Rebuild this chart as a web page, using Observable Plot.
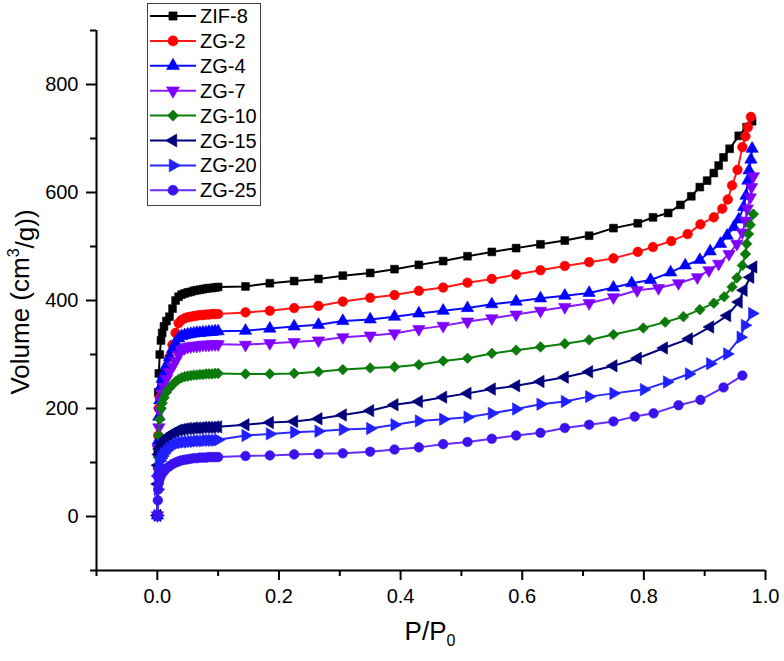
<!DOCTYPE html>
<html><head><meta charset="utf-8">
<script src="https://cdn.jsdelivr.net/npm/d3@7"></script>
<script src="https://cdn.jsdelivr.net/npm/@observablehq/plot@0.6"></script>
<style>
body{margin:0;background:#fff;}
#wrap{position:relative;width:784px;height:661px;}
#wrap svg{position:absolute;left:0;top:0;}
</style></head><body><div id="wrap"></div>
<script>
// ---- data ----
const seriesNames = ["ZIF-8","ZG-2","ZG-4","ZG-7","ZG-10","ZG-15","ZG-20","ZG-25"];
const lineColors  = ["#000000","#ff1a1a","#0a0aff","#8a1aff","#0a800a","#000080","#2a2aff","#6a2aff"];
const dotColors   = ["#000000","#ff0000","#0000ff","#8000ff","#0b7a0b","#00007a","#2020ff","#3a12ee"];
const symbols     = ["square","circle","triangle","triangle","diamond2","triangle","triangle","circle"];
const rotations   = [0,0,0,180,0,-90,90,0];

// shared relative-pressure grid, low and middle range
const pLow = [0.0002,0.0008,0.0015,0.0025,0.004,0.006,0.008,0.011,0.015,0.02,0.025,0.03,0.035,0.04,0.045,0.05,0.055,0.06,0.065,0.07,0.075,0.08,0.085,0.09,0.095,0.1];
const pMid = [0.145,0.185,0.225,0.265,0.305,0.35,0.39,0.43,0.47,0.51,0.55,0.59,0.63,0.67,0.71,0.75];

// volumes at pLow
const lowZIF8 = [2,120,230,265,300,326,340,352,362,370,385,400,407,411,413,415,416,418,419,420,421,422,423,423,424,425];
const lowZG2  = [2,90,150,200,220,235,245,255,272,295,318,340,358,364,367,369,370,371,372,373,373,374,374,375,375,375];
const lowZG4  = [2,80,140,185,215,240,255,265,280,295,310,322,330,334,336,337,338,339,340,340,341,341,342,342,343,343];
const lowZG7  = [2,70,125,165,195,215,228,240,255,268,278,288,300,308,312,314,315,316,316,317,318,318,318,319,319,319];
const lowZG10 = [2,60,110,150,180,200,210,220,230,238,244,250,254,257,259,260,261,262,262,263,263,264,264,264,265,265];
const lowZG15 = [2,60,95,115,125,130,135,140,145,150,154,157,160,161,162,163,163,164,164,164,165,165,165,165,166,166];
const lowZG20 = [2,50,80,95,103,108,112,117,122,127,131,134,136,137,138,138,139,139,140,140,140,141,141,141,141,142];
const lowZG25 = [1,30,50,62,70,76,80,84,89,93,97,100,102,104,105,106,107,108,108,109,109,109,110,110,110,110];

// volumes at pMid
const midZIF8 = [426,432,436,440,446,451,458,466,473,482,490,497,504,511,520,534];
const midZG2  = [378,381,386,390,398,405,410,418,424,433,440,448,456,464,471,478];
const midZG4  = [344,348,352,355,362,365,370,376,381,386,393,398,404,409,414,424];
const midZG7  = [318,321,323,326,332,335,339,347,353,361,367,374,381,388,395,406];
const midZG10 = [264,264,265,268,272,275,277,281,288,293,302,308,314,320,327,337];
const midZG15 = [170,174,176,181,188,196,207,213,221,228,236,242,250,258,268,279];
const midZG20 = [150,153,156,158,161,163,170,177,180,184,191,199,208,213,222,228];
const midZG25 = [112,113,115,116,117,120,124,128,134,138,144,150,155,164,170,176];

// high-pressure tails (own P/P0 points)
const tailPZIF8 = [0.79,0.815,0.84,0.86,0.878,0.892,0.904,0.915,0.923,0.931,0.941,0.956,0.969,0.978];
const tailVZIF8 = [543,554,562,577,593,610,622,636,650,665,681,705,721,732];
const tailPZG2  = [0.79,0.815,0.845,0.872,0.893,0.915,0.929,0.938,0.945,0.954,0.962,0.967,0.971,0.976];
const tailVZG2  = [490,499,510,523,541,554,570,587,613,642,684,704,721,740];
const tailPZG4  = [0.78,0.811,0.844,0.868,0.892,0.909,0.926,0.937,0.948,0.956,0.964,0.968,0.971,0.973,0.976,0.978];
const tailVZG4  = [432,438,452,465,475,491,505,520,536,550,573,594,622,641,661,681];
const tailPZG7  = [0.789,0.824,0.857,0.888,0.907,0.923,0.94,0.953,0.962,0.967,0.97,0.975,0.977,0.98];
const tailVZG7  = [419,423,432,443,456,468,486,505,526,548,570,591,610,630];
const tailPZG10 = [0.799,0.835,0.865,0.892,0.915,0.932,0.945,0.953,0.962,0.967,0.969,0.972,0.975,0.98];
const tailVZG10 = [349,360,370,383,395,407,425,442,465,486,505,523,540,560];
const tailPZG15 = [0.79,0.833,0.874,0.909,0.937,0.956,0.964,0.975,0.98];
const tailVZG15 = [293,312,329,351,372,397,419,443,462];
const tailPZG20 = [0.8,0.838,0.874,0.909,0.937,0.959,0.966,0.978];
const tailVZG20 = [235,249,264,283,301,332,354,376];
const tailPZG25 = [0.785,0.816,0.857,0.893,0.931,0.962];
const tailVZG25 = [185,191,206,216,239,261];

const xTicksMajor = [0,0.2,0.4,0.6,0.8,1.0];
const xTicksMinor = [-0.1,0.1,0.3,0.5,0.7,0.9];
const yTicksMajor = [0,200,400,600,800];
const yTicksMinor = [-100,100,300,500,700,900];
const xDomain = [-0.1,1.0];
const yDomain = [-100,900];

// ---- build table ----
const lows  = [lowZIF8,lowZG2,lowZG4,lowZG7,lowZG10,lowZG15,lowZG20,lowZG25];
const mids  = [midZIF8,midZG2,midZG4,midZG7,midZG10,midZG15,midZG20,midZG25];
const tailsP= [tailPZIF8,tailPZG2,tailPZG4,tailPZG7,tailPZG10,tailPZG15,tailPZG20,tailPZG25];
const tailsV= [tailVZIF8,tailVZG2,tailVZG4,tailVZG7,tailVZG10,tailVZG15,tailVZG20,tailVZG25];
const seriesData = seriesNames.map((name,i) => {
  const rows = [];
  pLow.forEach((p,j)=>rows.push({name,p,v:lows[i][j]}));
  pMid.forEach((p,j)=>rows.push({name,p,v:mids[i][j]}));
  tailsP[i].forEach((p,j)=>rows.push({name,p,v:tailsV[i][j]}));
  return rows;
});

const dotR = {square:4.4, circle:4.8, triangle:4.6, diamond2:4.8};
const FONT = "Arial, 'Liberation Sans', sans-serif";

const marks = [
  Plot.axisX(xTicksMinor,{tickSize:6,tickFormat:()=>"",strokeWidth:2,label:null}),
  Plot.axisX(xTicksMajor,{tickSize:10,tickPadding:8,tickFormat:d3.format(".1f"),strokeWidth:2,fontSize:20,label:null}),
  Plot.axisY(yTicksMinor,{tickSize:6,tickFormat:()=>"",strokeWidth:2,label:null}),
  Plot.axisY(yTicksMajor,{tickSize:10,tickPadding:8,tickFormat:d3.format("d"),strokeWidth:2,fontSize:20,label:null}),
  Plot.ruleX([xDomain[0]],{stroke:"#000",strokeWidth:2}),
  Plot.ruleY([yDomain[0]],{stroke:"#000",strokeWidth:2})
];
seriesData.forEach((rows,i)=>{
  marks.push(Plot.line(rows,{x:"p",y:"v",stroke:lineColors[i],strokeWidth:2}));
  marks.push(Plot.dot(rows,{x:"p",y:"v",fill:dotColors[i],stroke:dotColors[i],strokeWidth:0.6,
    symbol:symbols[i],r:dotR[symbols[i]],rotate:rotations[i]}));
});

const chart = Plot.plot({
  width:784,height:661,marginLeft:96,marginRight:19,marginTop:30,marginBottom:91,
  style:{fontFamily:FONT,fontSize:"20px",color:"#000",background:"#fff",overflow:"visible"},
  x:{domain:xDomain},y:{domain:yDomain},
  marks
});
document.getElementById("wrap").appendChild(chart);

// axis titles
const svg = d3.select(chart);
const yl = svg.append("text").attr("transform","translate(22,302) rotate(-90)")
  .attr("text-anchor","middle").attr("dominant-baseline","middle")
  .style("font-family",FONT).style("font-size","26px").attr("fill","#000");
yl.append("tspan").text("Volume (cm");
yl.append("tspan").text("3").attr("dy","-0.45em").style("font-size","16px");
yl.append("tspan").text("/g))").attr("dy","0.45em");
const xl = svg.append("text").attr("x",430).attr("y",640)
  .attr("text-anchor","middle").style("font-family",FONT).style("font-size","26px").attr("fill","#000");
xl.append("tspan").text("P/P");
xl.append("tspan").text("0").attr("dy","0.35em").style("font-size","16px");

// legend
const lg = d3.select("#wrap").append("svg").attr("width",784).attr("height",661).style("pointer-events","none");
lg.append("rect").attr("x",147.5).attr("y",3.5).attr("width",113).attr("height",202)
  .attr("fill","#fff").attr("stroke","#444").attr("stroke-width",1);
const symMap = {square:d3.symbolSquare,circle:d3.symbolCircle,triangle:d3.symbolTriangle,diamond2:d3.symbolDiamond2};
seriesNames.forEach((name,i)=>{
  const y = 16 + i*24.9;
  const g = lg.append("g").attr("transform",`translate(0,${y})`);
  g.append("line").attr("x1",150).attr("x2",196).attr("y1",0).attr("y2",0)
    .attr("stroke",lineColors[i]).attr("stroke-width",2);
  const r = dotR[symbols[i]];
  g.append("path").attr("d",d3.symbol(symMap[symbols[i]],Math.PI*r*r*1.1)())
    .attr("transform",`translate(173,0) rotate(${rotations[i]})`)
    .attr("fill",dotColors[i]).attr("stroke",dotColors[i]).attr("stroke-width",0.6);
  g.append("text").attr("x",200).attr("y",0).attr("dominant-baseline","central")
    .style("font-family",FONT).style("font-size","20px").attr("fill","#000").text(name);
});
</script></body></html>
